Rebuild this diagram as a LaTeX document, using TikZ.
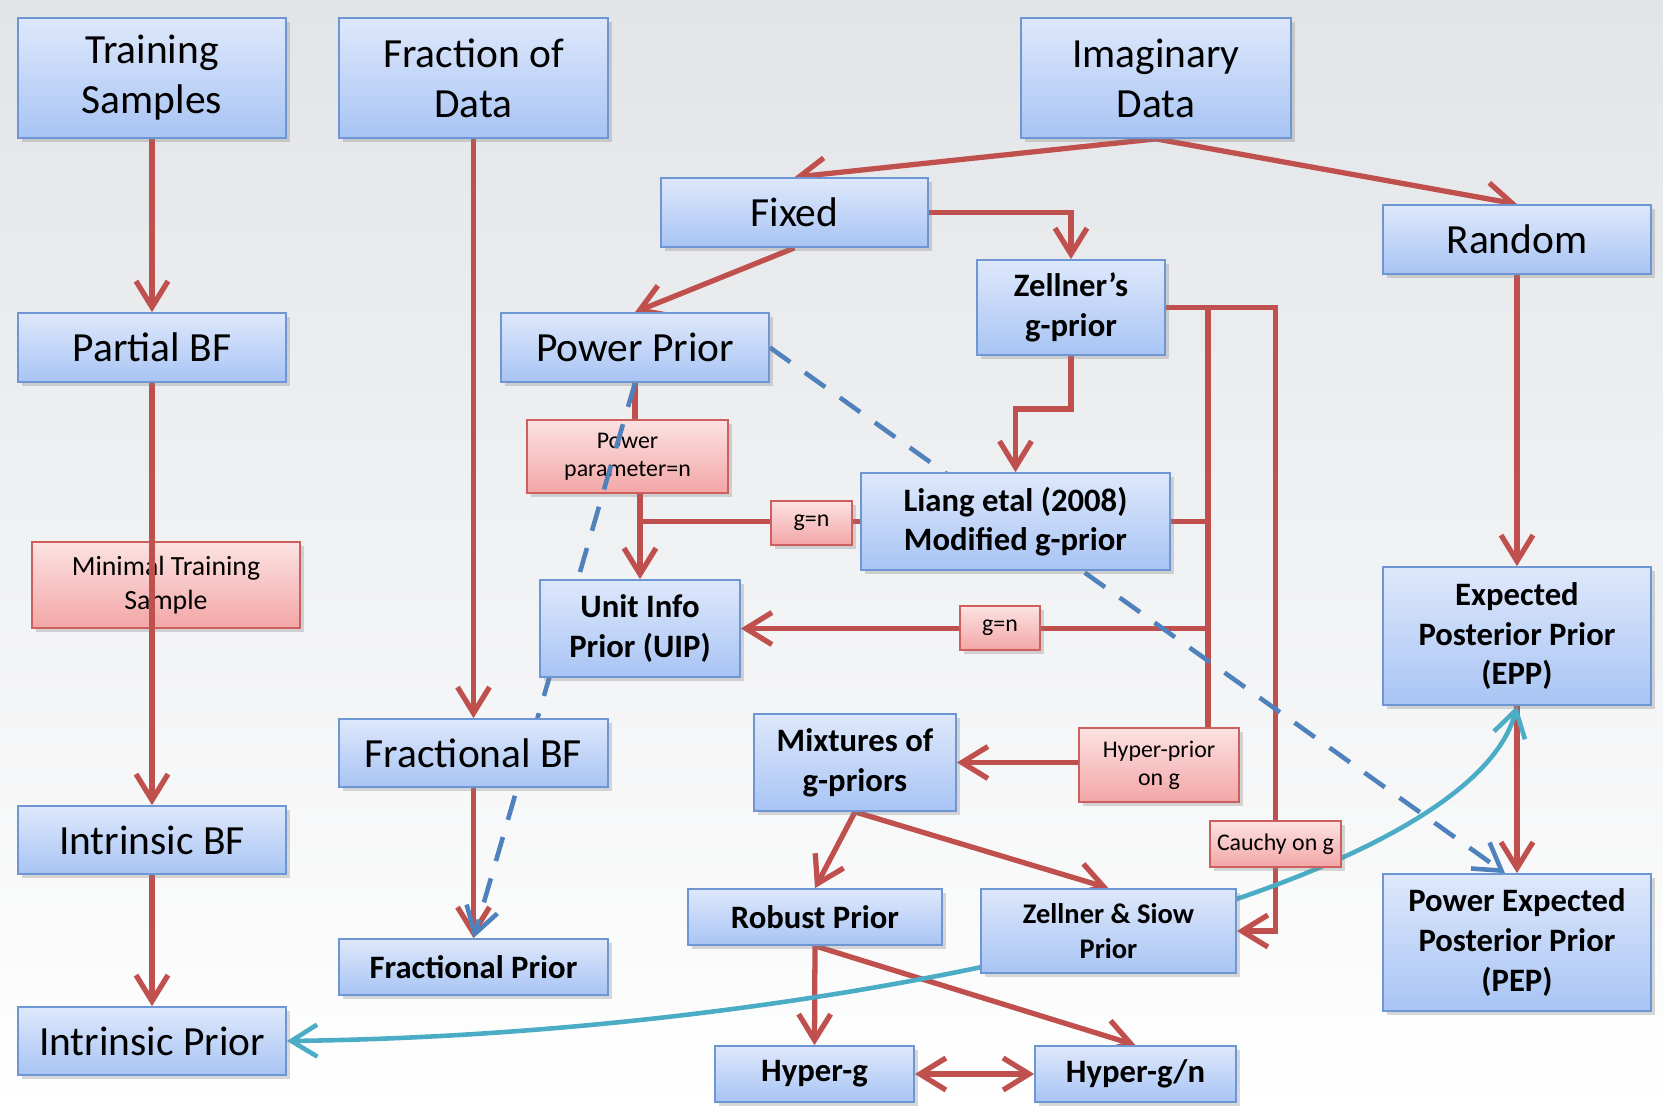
\documentclass[tikz,border=0pt]{standalone}
\usepackage{fontspec}
\setmainfont{Carlito}
\usepackage{xcolor}
\usetikzlibrary{arrows.meta}
\usetikzlibrary{shadows}

\definecolor{linkred}{RGB}{192,80,77}
\definecolor{linkcyan}{RGB}{75,172,198}
\definecolor{linkblue}{RGB}{79,129,189}
\definecolor{boxtop}{RGB}{222,232,251}
\definecolor{boxbot}{RGB}{168,196,244}
\definecolor{boxline}{RGB}{110,150,210}
\definecolor{tagtop}{RGB}{252,226,226}
\definecolor{tagbot}{RGB}{243,166,166}
\definecolor{tagline}{RGB}{205,95,95}
\definecolor{pagetop}{RGB}{226,228,231}

\newcommand{\txtbig}{\fontsize{11.8}{14.2}\selectfont}
\newcommand{\txtbold}{\bfseries\fontsize{9.3}{11.3}\selectfont}
\newcommand{\txtzs}{\bfseries\fontsize{8.1}{9.9}\selectfont}
\newcommand{\txttag}{\fontsize{6.8}{8}\selectfont}
\newcommand{\txtmts}{\fontsize{7.9}{9.6}\selectfont}

\pgfdeclarelayer{bg}
\pgfdeclarelayer{tags}
\pgfdeclarelayer{links}
\pgfsetlayers{bg,tags,links,main}

\begin{document}
\begin{tikzpicture}[x=0.1mm, y=-0.1mm,
	>={Straight Barb[length=2.6mm,width=3.2mm]},
	sz/.style 2 args={minimum width=#1*0.1mm, minimum height=#2*0.1mm},
	bluebox/.style={draw=boxline, line width=0.5pt, top color=boxtop, bottom color=boxbot,
		align=center, inner sep=1pt, drop shadow={opacity=0.3, shadow xshift=0.4mm, shadow yshift=-0.4mm}},
	tagbox/.style={draw=tagline, line width=0.5pt, top color=tagtop, bottom color=tagbot,
		align=center, inner sep=1pt, font=\txttag, drop shadow={opacity=0.3, shadow xshift=0.4mm, shadow yshift=-0.4mm}},
	redline/.style={draw=linkred, line width=1.5pt},
	bluedash/.style={draw=linkblue, line width=1.3pt, dash pattern=on 2.5mm off 1.8mm, ->},
	cyanarrow/.style={draw=linkcyan, line width=1.3pt, <->}]
	
	\useasboundingbox (0,0) rectangle (1663,1115);
	\begin{pgfonlayer}{bg}
		\shade[top color=pagetop, bottom color=white] (0,0) rectangle (1663,1115);
	\end{pgfonlayer}
	
	% first row
	\node[bluebox, sz={268}{120}, font=\txtbig] (ts) at (152,78) {Training\\Samples};
	\node[bluebox, sz={269}{120}, font=\txtbig] (fd) at (473.5,78) {Fraction of\\Data};
	\node[bluebox, sz={270}{120}, font=\txtbig] (imd) at (1156,78) {Imaginary\\Data};
	\node[bluebox, sz={267}{69}, font=\txtbig] (fixed) at (794.5,212.5) {Fixed};
	\node[bluebox, sz={268}{69}, font=\txtbig] (random) at (1517,239.5) {Random};
	\node[bluebox, sz={188}{95}, font=\txtbold] (zg) at (1071,307.5) {Zellner’s\\g-prior};
	\node[bluebox, sz={268}{69}, font=\txtbig] (pbf) at (152,347.5) {Partial BF};
	\node[bluebox, sz={268}{69}, font=\txtbig] (pp) at (635,347.5) {Power Prior};
	% middle
	\node[bluebox, sz={309}{97}, font=\txtbold] (liang) at (1015.5,521.5) {Liang etal (2008)\\Modified g-prior};
	\node[tagbox, sz={81}{44}] (gn1) at (811.5,523) {g=n};
	\node[bluebox, sz={200}{97}, font=\txtbold] (uip) at (640,628.5) {Unit Info\\Prior (UIP)};
	\node[tagbox, sz={80}{44}] (gn2) at (1000,628) {g=n};
	\node[bluebox, sz={268}{138}, font=\txtbold] (epp) at (1517,636) {Expected\\Posterior Prior\\(EPP)};
	\node[bluebox, sz={269}{68}, font=\txtbig] (fbf) at (473.5,753) {Fractional BF};
	\node[bluebox, sz={202}{97}, font=\txtbold] (mix) at (855,762.5) {Mixtures of\\g-priors};
	\node[tagbox, sz={160}{74}] (hp) at (1159,765) {Hyper-prior\\on g};
	\node[bluebox, sz={268}{68}, font=\txtbig] (ibf) at (152,840) {Intrinsic BF};
	\node[tagbox, sz={131}{46}] (cauchy) at (1275.5,844) {Cauchy on g};
	% bottom
	\node[bluebox, sz={268}{137}, font=\txtbold] (pep) at (1517,942.5) {Power Expected\\Posterior Prior\\(PEP)};
	\node[bluebox, sz={254}{56}, font=\txtbold] (robust) at (815,917) {Robust Prior};
	\node[bluebox, sz={255}{84}, font=\txtzs] (zs) at (1108.5,931) {Zellner \& Siow\\Prior};
	\node[bluebox, sz={269}{56}, font=\txtbold] (fp) at (473.5,967) {Fractional Prior};
	\node[bluebox, sz={268}{68}, font=\txtbig] (ip) at (152,1041) {Intrinsic Prior};
	\node[bluebox, sz={199}{56}, font=\txtbold] (hg) at (814.5,1074) {Hyper-g};
	\node[bluebox, sz={201}{56}, font=\txtbold] (hgn) at (1135.5,1074) {Hyper-g/n};
	
	% labels that lie under the lines
	\begin{pgfonlayer}{tags}
		\node[tagbox, sz={201}{73}] (ppar) at (627.5,456.5) {Power\\parameter=n};
		\node[tagbox, sz={268}{86}, font=\txtmts] (mts) at (166,585) {Minimal Training\\Sample};
	\end{pgfonlayer}
	
	\begin{pgfonlayer}{links}
		% left columns
		\draw[redline, ->] (ts.south) -- (pbf.north);
		\draw[redline, ->] (pbf.south) -- (ibf.north);
		\draw[redline, ->] (ibf.south) -- (ip.north);
		\draw[redline, ->] (fd.south) -- (fbf.north);
		\draw[redline, ->] (fbf.south) -- (fp.north);
		% imaginary data
		\draw[redline, ->] (imd.south) -- (fixed.north);
		\draw[redline, ->] (imd.south) -- (random.north);
		\draw[redline, ->] (fixed.east) -| (zg.north);
		\draw[redline, ->] (fixed.south) -- (pp.north);
		\draw[redline, ->] (zg.south) -- ++(0,53) -| (liang.north);
		\coordinate (jn) at (1208,521.5);
		\draw[redline, ->] (zg.east) -| (cauchy.center) |- (zs.east);
		\draw[redline, ->] (zg.east) -| (jn) |- (uip.east);
		\draw[redline] (liang.east) -- (jn) -- (jn |- hp.north);
		\draw[redline, ->] (hp.west |- mix.east) -- (mix.east);
		\draw[redline] (pp.south) -- (pp.south |- ppar.north);
		\draw[redline, ->] (ppar.south -| uip.north) -- (uip.north);
		\draw[redline] (liang.west) -- (liang.west -| uip.north);
		% mixtures
		\draw[redline, ->] (mix.south) -- (robust.north);
		\draw[redline, ->] (mix.south) -- (zs.north);
		\draw[redline, ->] (robust.south) -- (hg.north);
		\draw[redline, ->] (robust.south) -- (hgn.north);
		\draw[redline, <->] (hg.east) -- (hgn.west);
		% random
		\draw[redline, ->] (random.south) -- (epp.north);
		\draw[redline, ->] (epp.south) -- (pep.north);
		% dashed
		\draw[bluedash] (pp.east) -- ([xshift=-1.2mm]pep.north);
		\draw[bluedash] (pp.south) -- (fp.north);
		% intrinsic prior to epp
		\draw[cyanarrow] (ip.east) .. controls (848,1034) and (1470,890) .. (epp.south);
	\end{pgfonlayer}
\end{tikzpicture}
\end{document}
